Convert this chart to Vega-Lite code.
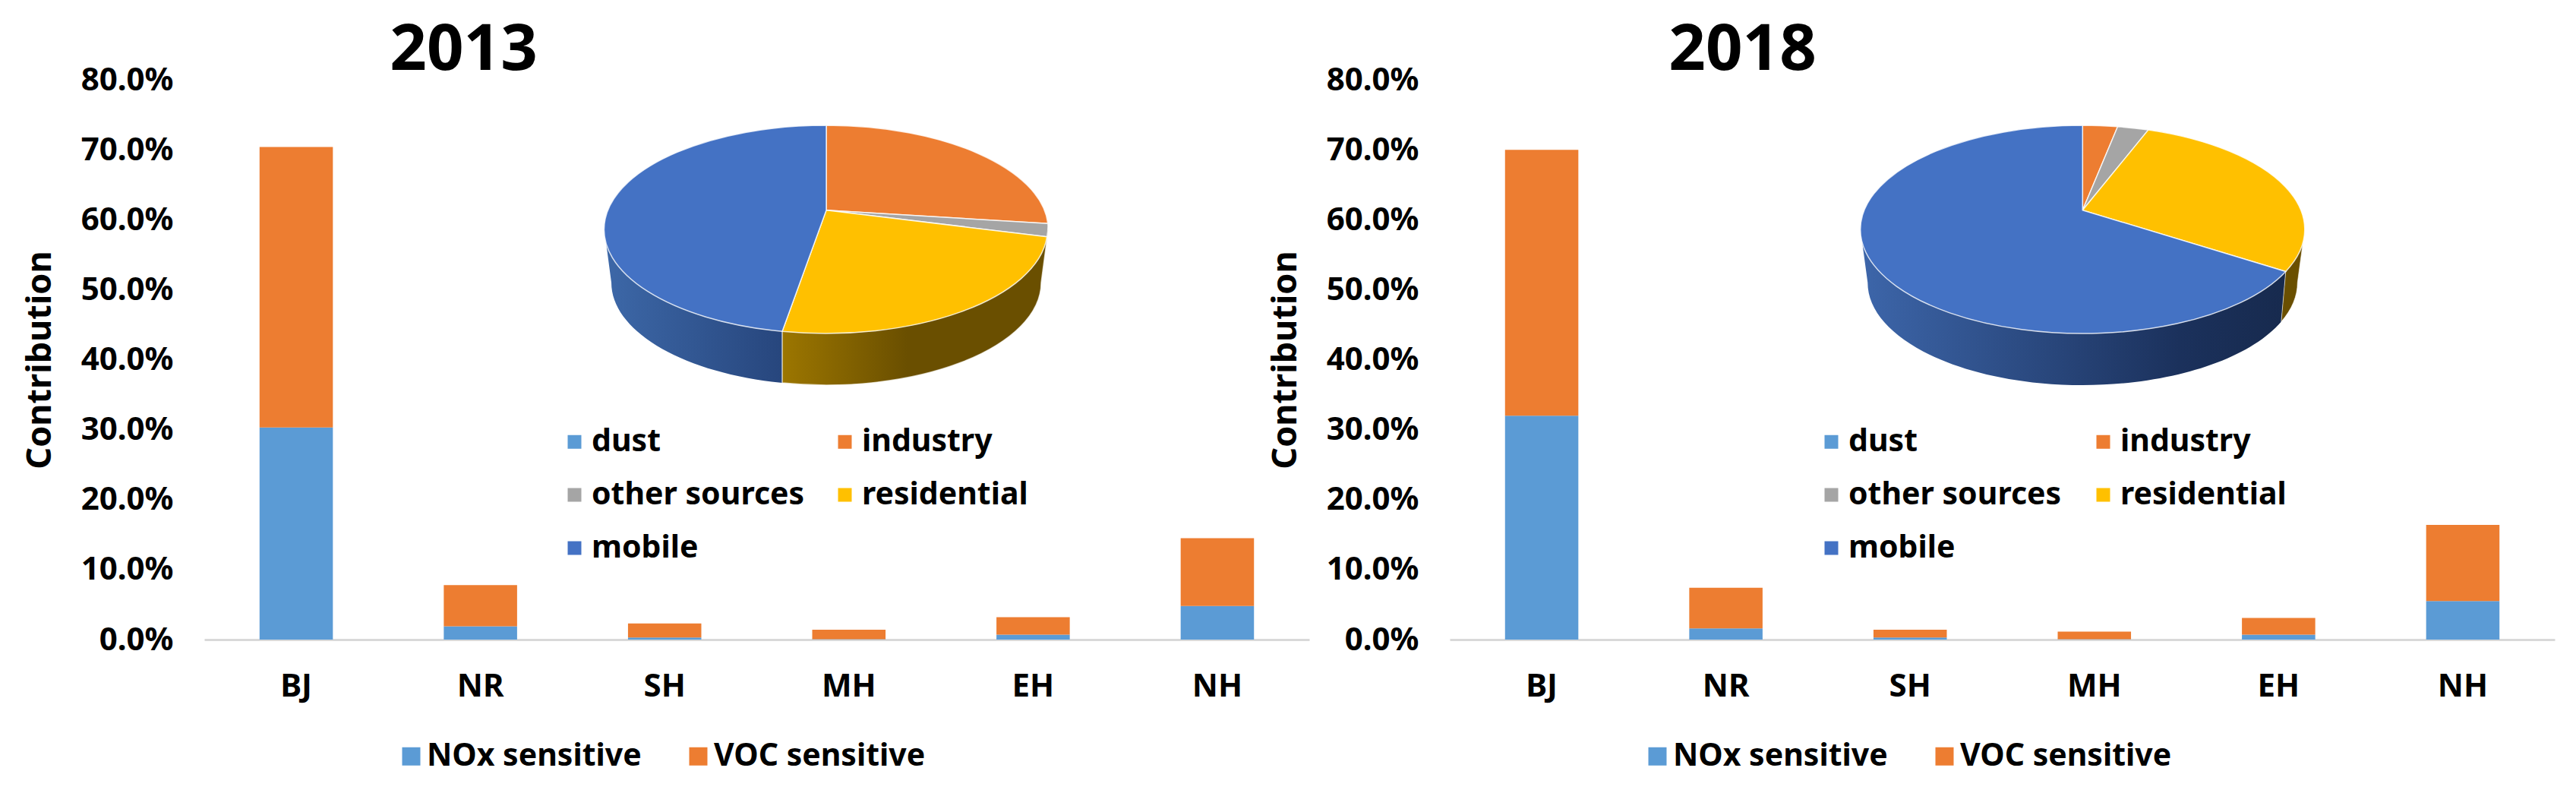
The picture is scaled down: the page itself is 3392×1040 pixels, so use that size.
{
"$schema":"https://vega.github.io/schema/vega-lite/v6.json",
"background":"white",
"padding":{"left":30,"top":24,"right":20,"bottom":20},
"bounds":"flush",
"spacing":185,
"config":{"font":"Noto Sans","view":{"stroke":null},"title":{"font":"Noto Sans"}},
"datasets":{
"bars":[
{"year":2013,"region":"BJ","sensitivity":"NOx sensitive","value":0.303},
{"year":2013,"region":"BJ","sensitivity":"VOC sensitive","value":0.401},
{"year":2013,"region":"NR","sensitivity":"NOx sensitive","value":0.019},
{"year":2013,"region":"NR","sensitivity":"VOC sensitive","value":0.059},
{"year":2013,"region":"SH","sensitivity":"NOx sensitive","value":0.003},
{"year":2013,"region":"SH","sensitivity":"VOC sensitive","value":0.020},
{"year":2013,"region":"MH","sensitivity":"NOx sensitive","value":0.0005},
{"year":2013,"region":"MH","sensitivity":"VOC sensitive","value":0.0135},
{"year":2013,"region":"EH","sensitivity":"NOx sensitive","value":0.007},
{"year":2013,"region":"EH","sensitivity":"VOC sensitive","value":0.025},
{"year":2013,"region":"NH","sensitivity":"NOx sensitive","value":0.048},
{"year":2013,"region":"NH","sensitivity":"VOC sensitive","value":0.097},
{"year":2018,"region":"BJ","sensitivity":"NOx sensitive","value":0.320},
{"year":2018,"region":"BJ","sensitivity":"VOC sensitive","value":0.380},
{"year":2018,"region":"NR","sensitivity":"NOx sensitive","value":0.016},
{"year":2018,"region":"NR","sensitivity":"VOC sensitive","value":0.058},
{"year":2018,"region":"SH","sensitivity":"NOx sensitive","value":0.003},
{"year":2018,"region":"SH","sensitivity":"VOC sensitive","value":0.011},
{"year":2018,"region":"MH","sensitivity":"NOx sensitive","value":0.0005},
{"year":2018,"region":"MH","sensitivity":"VOC sensitive","value":0.011},
{"year":2018,"region":"EH","sensitivity":"NOx sensitive","value":0.007},
{"year":2018,"region":"EH","sensitivity":"VOC sensitive","value":0.024},
{"year":2018,"region":"NH","sensitivity":"NOx sensitive","value":0.055},
{"year":2018,"region":"NH","sensitivity":"VOC sensitive","value":0.109}
],
"pie":[
{"year":2013,"source":"dust","share":0},
{"year":2013,"source":"industry","share":24},
{"year":2013,"source":"other sources","share":1.5},
{"year":2013,"source":"residential","share":26},
{"year":2013,"source":"mobile","share":48.5},
{"year":2018,"source":"dust","share":0},
{"year":2018,"source":"industry","share":2.8},
{"year":2018,"source":"other sources","share":2.5},
{"year":2018,"source":"residential","share":26},
{"year":2018,"source":"mobile","share":68.7}
]
},
"hconcat":[
{
"width":1455,"height":737,
"title":{"text":"2013","fontSize":85,"fontWeight":"bold","color":"#000000","anchor":"middle","dx":-386,"offset":-26},
"layer":[
{"data":{"name":"bars"},"transform":[{"filter":"datum.year==2013"}],
"mark":{"type":"bar"},
"encoding":{
"x":{"field":"region","type":"nominal","sort":["BJ","NR","SH","MH","EH","NH"],"scale":{"paddingInner":0.602,"paddingOuter":0.3},
"axis":{"title":null,"labelAngle":0,"labelFontSize":42,"labelFontWeight":"bold","labelColor":"#000000","ticks":false,"domainColor":"#d9d9d9","domainWidth":3,"labelPadding":41}},
"y":{"field":"value","type":"quantitative","stack":"zero","scale":{"domain":[0,0.8]},
"axis":{"title":"Contribution","titleFontSize":45,"titleFontWeight":"bold","titleColor":"#000000","titlePadding":31,"values":[0,0.1,0.2,0.3,0.4,0.5,0.6,0.7,0.8],"format":".1%","labelFontSize":42,"labelFontWeight":"bold","labelColor":"#000000","ticks":false,"domain":false,"grid":false,"labelPadding":41}},
"color":{"field":"sensitivity","type":"nominal","scale":{"domain":["NOx sensitive","VOC sensitive"],"range":["#5b9bd5","#ed7d31"]},
"legend":{"title":null,"orient":"none","legendX":252,"legendY":870,"direction":"horizontal","symbolType":"square","symbolSize":576,"labelFontSize":41,"labelFontWeight":"bold","labelColor":"#000000","labelOffset":0,"labelLimit":500,"columnPadding":54}},
"order":{"field":"sensitivity"}
}},
{"data":{"name":"pie"},"transform":[{"filter":"datum.year==2013"}],
"encoding":{
"x":{"datum":0.5629,"type":"quantitative","scale":{"domain":[0,1]},"axis":null},
"y":{"datum":0.767,"type":"quantitative","scale":{"domain":[0,1]},"axis":null}
},
"layer":[
{"transform":[{"filter":"datum.source=='mobile'"}],
"mark":{"type":"point","filled":true,"opacity":1,"size":4,"shape":"M-292.3,25.3 L-283,95.3 A283,135 0 0 0 -58,227.4 L-58,159.6 Z","fill":{"gradient":"linear","x1":0,"y1":0,"x2":1,"y2":0,"stops":[{"offset":0,"color":"#3d68a8"},{"offset":1,"color":"#27467d"}]},"strokeWidth":0}},
{"transform":[{"filter":"datum.source=='residential'"}],
"mark":{"type":"point","filled":true,"opacity":1,"size":4,"shape":"M-58,159.6 L-58,227.4 A283,135 0 0 0 283,95.3 L292.3,25.3 Z","fill":{"gradient":"linear","x1":0,"y1":0,"x2":1,"y2":0,"stops":[{"offset":0,"color":"#9c7600"},{"offset":0.47,"color":"#6a4f00"},{"offset":1,"color":"#6a4f00"}]},"stroke":"#ffffff","strokeWidth":1.5,"strokeOpacity":0.7}},
{"mark":{"type":"point","filled":true,"opacity":1,"size":0,"shape":"square"},
"encoding":{
"color":{"field":"source","type":"nominal","scale":{"domain":["dust","industry","other sources","residential","mobile"],"range":["#5b9bd5","#ed7d31","#a5a5a5","#ffc000","#4472c4"]},
"legend":{"title":null,"orient":"none","legendX":467,"legendY":456,"direction":"horizontal","columns":2,"symbolType":"square","symbolSize":324,"symbolStrokeWidth":0,"symbolOpacity":1,"labelFontSize":41,"labelFontWeight":"bold","labelColor":"#000000","labelOffset":2,"labelLimit":500,"columnPadding":32,"rowPadding":28}}
}},
{"transform":[{"filter":"datum.source=='industry'"}],
"mark":{"type":"point","filled":true,"opacity":1,"size":4,"stroke":"#ffffff","strokeWidth":1.5,"strokeOpacity":0.8,"shape":"M0,0 L0,-111.7 A292.3,137 0 0 1 291.8,17.6 Z"},
"encoding":{"color":{"field":"source","type":"nominal"}}},
{"transform":[{"filter":"datum.source=='other sources'"}],
"mark":{"type":"point","filled":true,"opacity":1,"size":4,"stroke":"#ffffff","strokeWidth":1.5,"strokeOpacity":0.8,"shape":"M0,0 L291.8,17.6 A292.3,137 0 0 1 290.6,35 Z"},
"encoding":{"color":{"field":"source","type":"nominal"}}},
{"transform":[{"filter":"datum.source=='residential'"}],
"mark":{"type":"point","filled":true,"opacity":1,"size":4,"stroke":"#ffffff","strokeWidth":1.5,"strokeOpacity":0.8,"shape":"M0,0 L290.6,35 A292.3,137 0 0 1 -58,159.6 Z"},
"encoding":{"color":{"field":"source","type":"nominal"}}},
{"transform":[{"filter":"datum.source=='mobile'"}],
"mark":{"type":"point","filled":true,"opacity":1,"size":4,"stroke":"#ffffff","strokeWidth":1.5,"strokeOpacity":0.8,"shape":"M0,0 L-58,159.6 A292.3,137 0 0 1 0,-111.7 Z"},
"encoding":{"color":{"field":"source","type":"nominal"}}}
]}
],
"resolve":{"scale":{"x":"independent","y":"independent","color":"independent"}}
},
{
"width":1455,"height":737,
"title":{"text":"2018","fontSize":85,"fontWeight":"bold","color":"#000000","anchor":"middle","dx":-342,"offset":-26},
"layer":[
{"data":{"name":"bars"},"transform":[{"filter":"datum.year==2018"}],
"mark":{"type":"bar"},
"encoding":{
"x":{"field":"region","type":"nominal","sort":["BJ","NR","SH","MH","EH","NH"],"scale":{"paddingInner":0.602,"paddingOuter":0.3},
"axis":{"title":null,"labelAngle":0,"labelFontSize":42,"labelFontWeight":"bold","labelColor":"#000000","ticks":false,"domainColor":"#d9d9d9","domainWidth":3,"labelPadding":41}},
"y":{"field":"value","type":"quantitative","stack":"zero","scale":{"domain":[0,0.8]},
"axis":{"title":"Contribution","titleFontSize":45,"titleFontWeight":"bold","titleColor":"#000000","titlePadding":31,"values":[0,0.1,0.2,0.3,0.4,0.5,0.6,0.7,0.8],"format":".1%","labelFontSize":42,"labelFontWeight":"bold","labelColor":"#000000","ticks":false,"domain":false,"grid":false,"labelPadding":41}},
"color":{"field":"sensitivity","type":"nominal","scale":{"domain":["NOx sensitive","VOC sensitive"],"range":["#5b9bd5","#ed7d31"]},
"legend":{"title":null,"orient":"none","legendX":253,"legendY":870,"direction":"horizontal","symbolType":"square","symbolSize":576,"labelFontSize":41,"labelFontWeight":"bold","labelColor":"#000000","labelOffset":0,"labelLimit":500,"columnPadding":54}},
"order":{"field":"sensitivity"}
}},
{"data":{"name":"pie"},"transform":[{"filter":"datum.year==2018"}],
"encoding":{
"x":{"datum":0.5727,"type":"quantitative","scale":{"domain":[0,1]},"axis":null},
"y":{"datum":0.767,"type":"quantitative","scale":{"domain":[0,1]},"axis":null}
},
"layer":[
{"transform":[{"filter":"datum.source=='mobile'"}],
"mark":{"type":"point","filled":true,"opacity":1,"size":4,"shape":"M-292.5,25.3 L-283,95.3 A283,135 0 0 0 261.6,146.8 L267.5,80.7 Z","fill":{"gradient":"linear","x1":0,"y1":0,"x2":1,"y2":0,"stops":[{"offset":0,"color":"#3d66aa"},{"offset":0.75,"color":"#1b315c"},{"offset":1,"color":"#172a4e"}]},"strokeWidth":0}},
{"transform":[{"filter":"datum.source=='residential'"}],
"mark":{"type":"point","filled":true,"opacity":1,"size":4,"shape":"M267.5,80.7 L261.6,146.8 A283,135 0 0 0 283,95.3 L292.5,25.3 Z","fill":"#6a4f00","stroke":"#ffffff","strokeWidth":1,"strokeOpacity":0.6}},
{"mark":{"type":"point","filled":true,"opacity":1,"size":0,"shape":"square"},
"encoding":{
"color":{"field":"source","type":"nominal","scale":{"domain":["dust","industry","other sources","residential","mobile"],"range":["#5b9bd5","#ed7d31","#a5a5a5","#ffc000","#4472c4"]},
"legend":{"title":null,"orient":"none","legendX":482,"legendY":456,"direction":"horizontal","columns":2,"symbolType":"square","symbolSize":324,"symbolStrokeWidth":0,"symbolOpacity":1,"labelFontSize":41,"labelFontWeight":"bold","labelColor":"#000000","labelOffset":2,"labelLimit":500,"columnPadding":34,"rowPadding":28}}
}},
{"transform":[{"filter":"datum.source=='industry'"}],
"mark":{"type":"point","filled":true,"opacity":1,"size":4,"stroke":"#ffffff","strokeWidth":1.5,"strokeOpacity":0.8,"shape":"M0,0 L0,-111.7 A292.5,137 0 0 1 46.2,-110 Z"},
"encoding":{"color":{"field":"source","type":"nominal"}}},
{"transform":[{"filter":"datum.source=='other sources'"}],
"mark":{"type":"point","filled":true,"opacity":1,"size":4,"stroke":"#ffffff","strokeWidth":1.5,"strokeOpacity":0.8,"shape":"M0,0 L46.2,-110 A292.5,137 0 0 1 86.5,-105.6 Z"},
"encoding":{"color":{"field":"source","type":"nominal"}}},
{"transform":[{"filter":"datum.source=='residential'"}],
"mark":{"type":"point","filled":true,"opacity":1,"size":4,"stroke":"#ffffff","strokeWidth":1.5,"strokeOpacity":0.8,"shape":"M0,0 L86.5,-105.6 A292.5,137 0 0 1 267.5,80.7 Z"},
"encoding":{"color":{"field":"source","type":"nominal"}}},
{"transform":[{"filter":"datum.source=='mobile'"}],
"mark":{"type":"point","filled":true,"opacity":1,"size":4,"stroke":"#ffffff","strokeWidth":1.5,"strokeOpacity":0.8,"shape":"M0,0 L267.5,80.7 A292.5,137 0 1 1 0,-111.7 Z"},
"encoding":{"color":{"field":"source","type":"nominal"}}}
]}
],
"resolve":{"scale":{"x":"independent","y":"independent","color":"independent"}}
}
]
}
